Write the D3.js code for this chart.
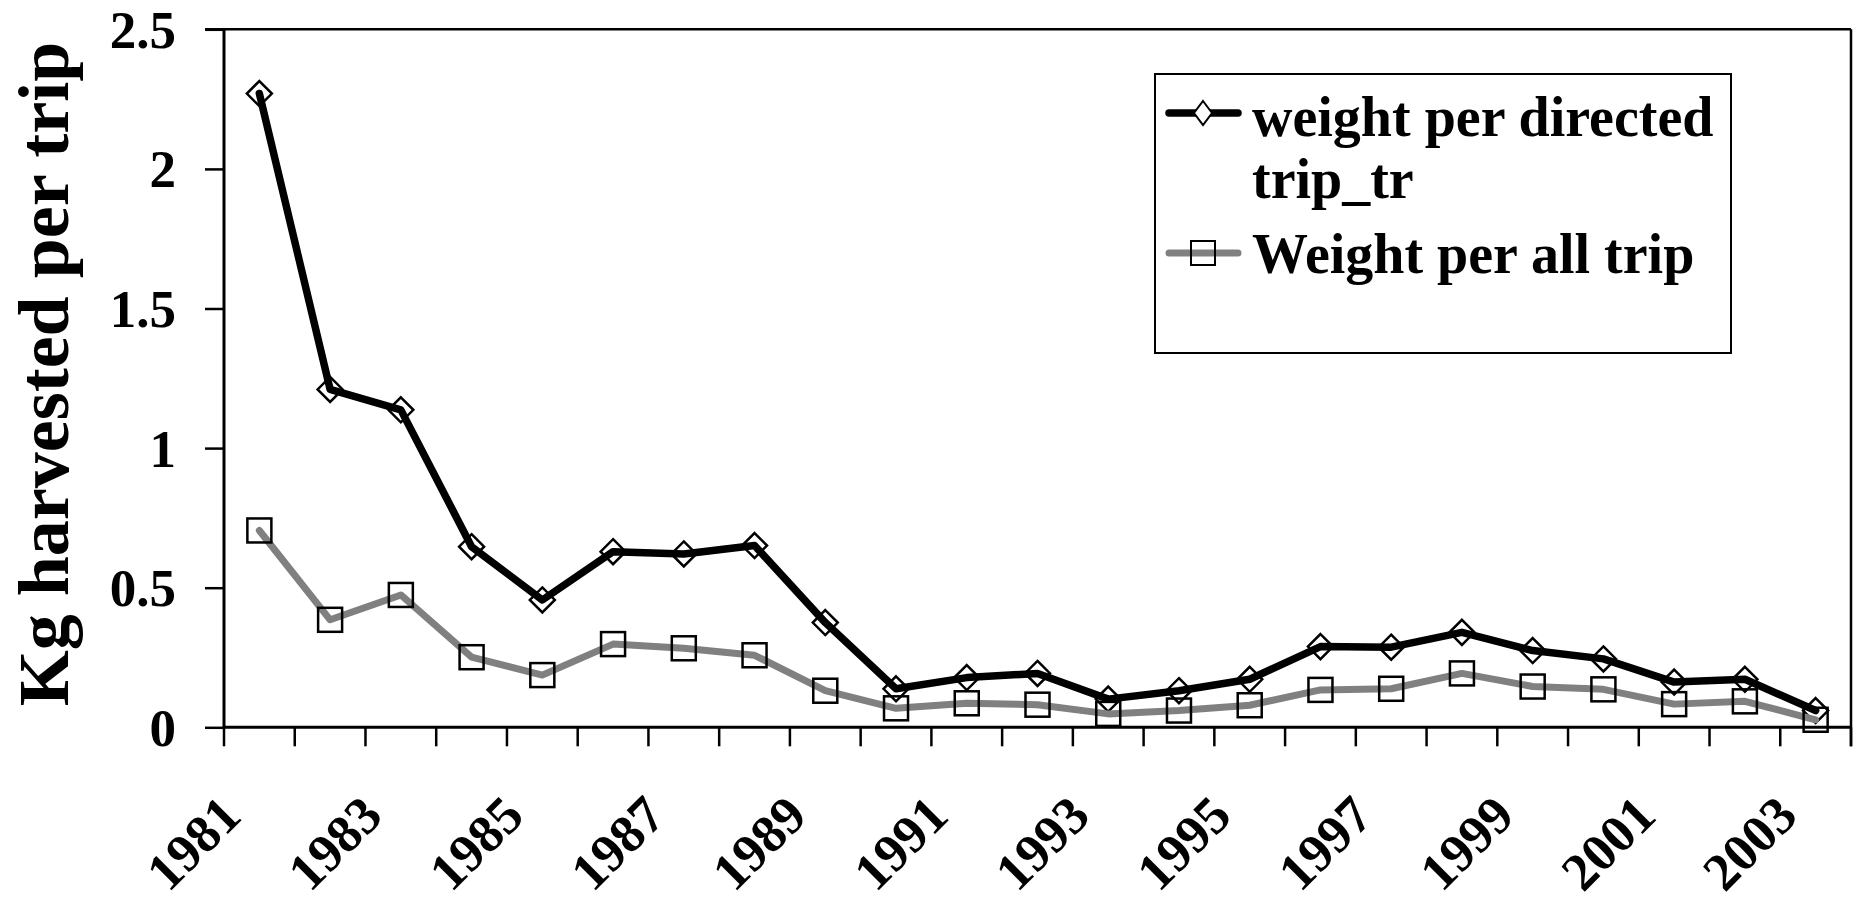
<!DOCTYPE html>
<html>
<head>
<meta charset="utf-8">
<script src="https://cdn.jsdelivr.net/npm/d3@7"></script>
<style>
  html, body { margin: 0; padding: 0; background: #fff; }
  svg { display: block; }
  text { font-family: "Liberation Serif", "Times New Roman", serif; font-weight: bold; fill: #000; }
</style>
</head>
<body>
<svg id="chart" width="1860" height="903"></svg>
<script>
// ---- data ----
const years = ["1981","1982","1983","1984","1985","1986","1987","1988","1989","1990","1991","1992",
               "1993","1994","1995","1996","1997","1998","1999","2000","2001","2002","2003"];
const directedTrip = [2.27,1.21,1.137,0.647,0.456,0.629,0.621,0.651,0.375,0.138,0.178,0.193,
                      0.101,0.131,0.172,0.289,0.287,0.34,0.275,0.245,0.162,0.172,0.06];
const allTrip = [0.705,0.385,0.474,0.251,0.187,0.298,0.283,0.258,0.131,0.068,0.086,0.081,
                 0.048,0.06,0.079,0.134,0.138,0.193,0.146,0.136,0.083,0.093,0.027];
const yTicks = [0, 0.5, 1, 1.5, 2, 2.5];
const yTickLabels = ["0", "0.5", "1", "1.5", "2", "2.5"];
const xLabelYears = years.filter((d, i) => i % 2 === 0);
const seriesNames = ["weight per directed trip_tr", "Weight per all trip"];
const yTitle = "Kg harvested per trip";

(function () {
// ---- layout ----
const pL = 224, pR = 1851, pT = 29.3, pB = 727.3;
const svg = d3.select("#chart");

const x = d3.scaleBand().domain(years).range([pL, pR]).padding(0);
const y = d3.scaleLinear().domain([0, 2.5]).range([pB, pT]);
const cx = d => x(d) + x.bandwidth() / 2;

// frame (top and right)
svg.append("line").attr("x1", pL - 19).attr("x2", pR).attr("y1", pT).attr("y2", pT)
  .attr("stroke", "#000").attr("stroke-width", 2.5);
svg.append("line").attr("x1", pR).attr("x2", pR).attr("y1", pT).attr("y2", pB + 19)
  .attr("stroke", "#000").attr("stroke-width", 2.5);

// y axis
const yAxis = d3.axisLeft(y).tickValues(yTicks).tickSize(19).tickPadding(29)
  .tickFormat((d, i) => yTickLabels[i]);
const gy = svg.append("g").attr("transform", `translate(${pL},0)`).call(yAxis);
gy.select(".domain").attr("stroke", "#000").attr("stroke-width", 3).attr("d", `M0,${pT}V${pB}`);
gy.selectAll(".tick line").attr("stroke", "#000").attr("stroke-width", 2.5);
gy.selectAll(".tick text").attr("font-size", 53).attr("dy", "0.34em")
  .style("font-family", '"Liberation Serif", serif').style("font-weight", "bold");

// x axis
const xAxis = d3.axisBottom(x).tickValues(xLabelYears).tickSize(0).tickPadding(0);
const gx = svg.append("g").attr("transform", `translate(0,${pB})`).call(xAxis);
gx.select(".domain").attr("stroke", "#000").attr("stroke-width", 3).attr("d", `M${pL},0H${pR}`);
gx.selectAll(".tick text")
  .attr("font-size", 53)
  .attr("text-anchor", "end")
  .attr("y", 0).attr("dy", 0)
  .attr("transform", "translate(-16,91) rotate(-45)")
  .style("font-family", '"Liberation Serif", serif').style("font-weight", "bold");
// boundary tick marks
const bounds = years.map(d => x(d)).concat([pR]);
svg.append("g").selectAll("line").data(bounds).join("line")
  .attr("x1", d => d).attr("x2", d => d).attr("y1", pB).attr("y2", pB + 19)
  .attr("stroke", "#000").attr("stroke-width", 2.5);

// y title
svg.append("text")
  .attr("transform", `translate(68,374) rotate(-90)`)
  .attr("text-anchor", "middle")
  .attr("font-size", 72)
  .text(yTitle);

// series
const line = d3.line().x((d, i) => cx(years[i])).y(d => y(d));
const diamond = (hw, hh) => `M0,${-hh}L${hw},0L0,${hh}L${-hw},0Z`;

svg.append("path").datum(directedTrip).attr("d", line)
  .attr("fill", "none").attr("stroke", "#000").attr("stroke-width", 7.5)
  .attr("stroke-linejoin", "round").attr("stroke-linecap", "round");
svg.append("g").selectAll("path").data(directedTrip).join("path")
  .attr("transform", (d, i) => `translate(${cx(years[i])},${y(d)})`)
  .attr("d", diamond(12.5, 12.5))
  .attr("fill", "none").attr("stroke", "#000").attr("stroke-width", 2.5);

svg.append("path").datum(allTrip).attr("d", line)
  .attr("fill", "none").attr("stroke", "#808080").attr("stroke-width", 7)
  .attr("stroke-linejoin", "round").attr("stroke-linecap", "round");
svg.append("g").selectAll("rect").data(allTrip).join("rect")
  .attr("x", (d, i) => cx(years[i]) - 12).attr("y", d => y(d) - 12)
  .attr("width", 24).attr("height", 24)
  .attr("fill", "none").attr("stroke", "#000").attr("stroke-width", 2.5);

// legend
const lg = svg.append("g");
lg.append("rect").attr("x", 1155).attr("y", 74).attr("width", 576).attr("height", 279)
  .attr("fill", "#fff").attr("stroke", "#000").attr("stroke-width", 2);
lg.append("line").attr("x1", 1169).attr("x2", 1238).attr("y1", 113).attr("y2", 113)
  .attr("stroke", "#000").attr("stroke-width", 7.5).attr("stroke-linecap", "round");
lg.append("path").attr("transform", "translate(1203,113)").attr("d", diamond(9, 12))
  .attr("fill", "#fff").attr("stroke", "#000").attr("stroke-width", 2);
const t1 = lg.append("text").attr("x", 1252).attr("y", 136).attr("font-size", 56);
t1.append("tspan").attr("x", 1252).attr("y", 136).text("weight per directed");
t1.append("tspan").attr("x", 1252).attr("y", 198).text("trip_tr");
lg.append("line").attr("x1", 1169).attr("x2", 1238).attr("y1", 253).attr("y2", 253)
  .attr("stroke", "#808080").attr("stroke-width", 7).attr("stroke-linecap", "round");
lg.append("rect").attr("x", 1191).attr("y", 241).attr("width", 24).attr("height", 24)
  .attr("fill", "none").attr("stroke", "#000").attr("stroke-width", 2);
lg.append("text").attr("x", 1252).attr("y", 273).attr("font-size", 56).text(seriesNames[1]);
})();
</script>
</body>
</html>
